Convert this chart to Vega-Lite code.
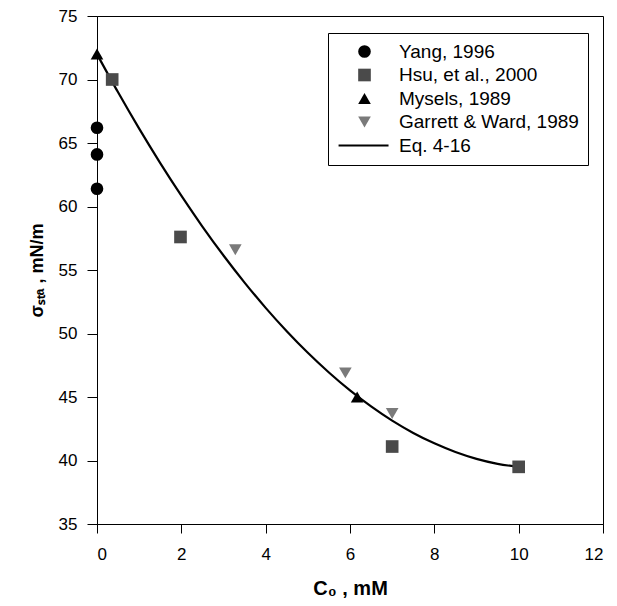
{
  "$schema": "https://vega.github.io/schema/vega-lite/v6.json",
  "width": 506,
  "height": 508,
  "padding": {"left": 28, "top": 7, "right": 3, "bottom": 5},
  "background": "white",
  "config": {
    "view": {"stroke": "black", "strokeWidth": 1},
    "axis": {
      "grid": false,
      "domainColor": "black",
      "tickColor": "black",
      "labelColor": "black",
      "titleColor": "black",
      "labelFont": "Liberation Sans",
      "titleFont": "Liberation Sans",
      "labelFontSize": 17,
      "titleFontWeight": "bold"
    },
    "legend": {
      "orient": "none",
      "legendX": 231,
      "legendY": 17,
      "strokeColor": "black",
      "fillColor": "white",
      "padding": 9,
      "symbolOffset": 18,
      "symbolSize": 160,
      "symbolStrokeWidth": 0,
      "labelOffset": 25,
      "labelFont": "Liberation Sans",
      "labelFontSize": 19,
      "labelColor": "black",
      "rowPadding": 3.5,
      "labelLimit": 300
    }
  },
  "datasets": {
    "points": [
      {"series": "Yang, 1996", "c0": 0, "sigma": 66.2},
      {"series": "Yang, 1996", "c0": 0, "sigma": 64.1},
      {"series": "Yang, 1996", "c0": 0, "sigma": 61.4},
      {"series": "Hsu, et al., 2000", "c0": 0.36, "sigma": 70.0},
      {"series": "Hsu, et al., 2000", "c0": 1.98, "sigma": 57.6},
      {"series": "Hsu, et al., 2000", "c0": 7.0, "sigma": 41.1},
      {"series": "Hsu, et al., 2000", "c0": 10.0, "sigma": 39.5},
      {"series": "Mysels, 1989", "c0": 0, "sigma": 72.0},
      {"series": "Mysels, 1989", "c0": 6.17, "sigma": 45.0},
      {"series": "Garrett & Ward, 1989", "c0": 3.28, "sigma": 56.6},
      {"series": "Garrett & Ward, 1989", "c0": 5.89, "sigma": 46.9},
      {"series": "Garrett & Ward, 1989", "c0": 7.0, "sigma": 43.7}
    ],
    "curve": [
      {"c0": 0, "sigma": 72.0},
      {"c0": 0.5, "sigma": 68.99},
      {"c0": 1, "sigma": 66.13},
      {"c0": 1.5, "sigma": 63.42},
      {"c0": 2, "sigma": 60.85},
      {"c0": 2.5, "sigma": 58.42},
      {"c0": 3, "sigma": 56.14},
      {"c0": 3.5, "sigma": 54.01},
      {"c0": 4, "sigma": 52.02},
      {"c0": 4.5, "sigma": 50.18},
      {"c0": 5, "sigma": 48.48},
      {"c0": 5.5, "sigma": 46.93},
      {"c0": 6, "sigma": 45.52},
      {"c0": 6.5, "sigma": 44.26},
      {"c0": 7, "sigma": 43.14},
      {"c0": 7.5, "sigma": 42.17},
      {"c0": 8, "sigma": 41.35},
      {"c0": 8.5, "sigma": 40.67},
      {"c0": 9, "sigma": 40.13},
      {"c0": 9.5, "sigma": 39.74},
      {"c0": 10, "sigma": 39.5}
    ]
  },
  "encoding": {
    "x": {
      "field": "c0", "type": "quantitative",
      "scale": {"domain": [0, 12], "nice": false, "zero": false},
      "axis": {"values": [0, 2, 4, 6, 8, 10, 12], "tickSize": 9, "labelPadding": 13, "title": "C₀ , mM", "titleFontSize": 20, "titlePadding": 16}
    },
    "y": {
      "field": "sigma", "type": "quantitative",
      "scale": {"domain": [35, 75], "nice": false, "zero": false},
      "axis": {"values": [35, 40, 45, 50, 55, 60, 65, 70, 75], "tickSize": 10, "labelPadding": 10, "title": "σₛₜₐ , mN/m", "titleFontSize": 18, "titlePadding": 12}
    }
  },
  "layer": [
    {
      "data": {"name": "curve"},
      "mark": {"type": "line", "color": "black", "strokeWidth": 2.2, "interpolate": "monotone"}
    },
    {
      "data": {"name": "points"},
      "mark": {"type": "point", "filled": true, "size": 160, "opacity": 1},
      "encoding": {
        "shape": {
          "field": "series", "type": "nominal",
          "scale": {
            "domain": ["Yang, 1996", "Hsu, et al., 2000", "Mysels, 1989", "Garrett & Ward, 1989", "Eq. 4-16"],
            "range": ["circle", "square", "triangle-up", "triangle-down", "M-4.1,-0.17H3.8V0.17H-4.1Z"]
          },
          "legend": {"title": null}
        },
        "color": {
          "field": "series", "type": "nominal",
          "scale": {
            "domain": ["Yang, 1996", "Hsu, et al., 2000", "Mysels, 1989", "Garrett & Ward, 1989", "Eq. 4-16"],
            "range": ["black", "#4a4a4a", "black", "#7a7a7a", "black"]
          },
          "legend": {"title": null}
        }
      }
    }
  ]
}
